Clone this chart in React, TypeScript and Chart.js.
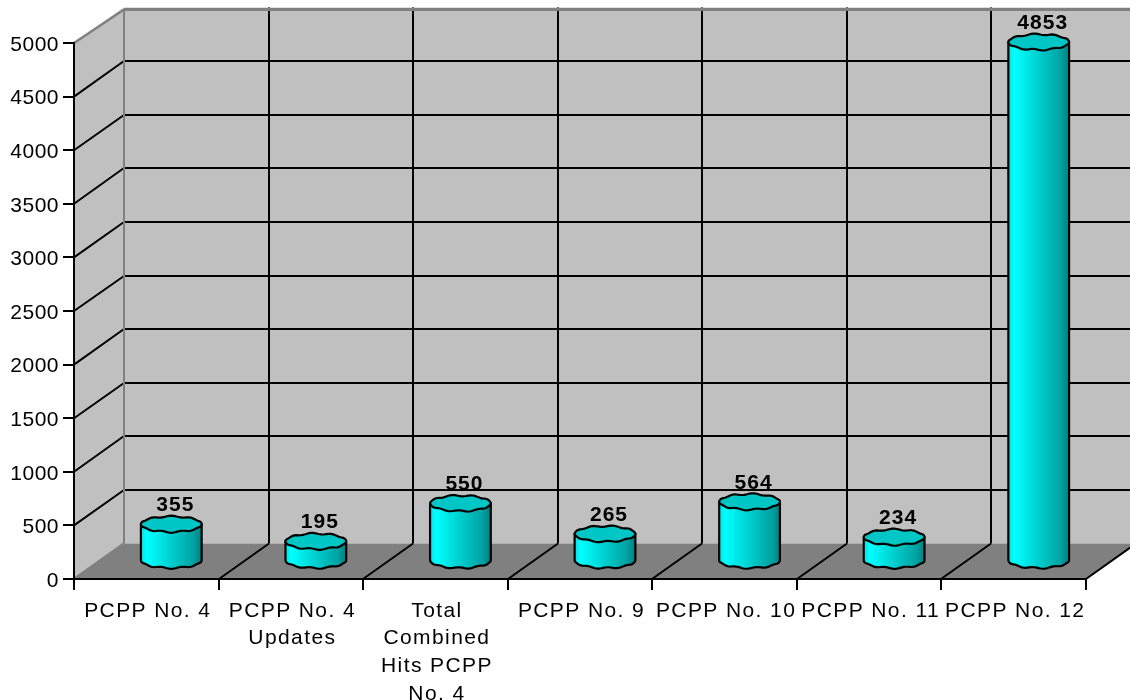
import React, { useEffect, useRef } from "react";
import { Chart, registerables } from "chart.js";

Chart.register(...registerables);

const categories: (string | string[])[] = [
  "PCPP No. 4",
  ["PCPP No. 4", "Updates"],
  ["Total", "Combined", "Hits PCPP", "No. 4"],
  "PCPP No. 9",
  "PCPP No. 10",
  "PCPP No. 11",
  "PCPP No. 12",
];
const hits = [355, 195, 550, 265, 564, 234, 4853];

const DX = 50;
const DY = 35.5;
const WALL = "#C0C0C0";
const FLOOR = "#808080";
const FONT = "'Liberation Sans', Arial, sans-serif";

function line(ctx: CanvasRenderingContext2D, x1: number, y1: number, x2: number, y2: number, color: string, w: number) {
  ctx.strokeStyle = color;
  ctx.lineWidth = w;
  ctx.beginPath();
  ctx.moveTo(x1, y1);
  ctx.lineTo(x2, y2);
  ctx.stroke();
}

function spaced(scale: any, spacing: string, shiftX: number, shiftY: number) {
  if (scale.__spaced) return;
  scale.__spaced = true;
  const original = scale.drawLabels.bind(scale);
  scale.drawLabels = (area: any) => {
    const ctx = scale.ctx;
    ctx.save();
    ctx.letterSpacing = spacing;
    ctx.translate(shiftX, shiftY);
    original(area);
    ctx.restore();
  };
}

const stage = {
  id: "stage3d",
  beforeDraw(chart: any) {
    const { ctx, scales } = chart;
    const { x, y } = scales;
    spaced(x, "1.4px", 1.5, 0);
    spaced(y, "0.5px", 0, 2);
    const left = x.left;
    const right = x.right;
    const y0 = y.getPixelForValue(0);
    const yTop = y.getPixelForValue(5000);
    const step = (right - left) / categories.length;
    ctx.save();
    ctx.fillStyle = "#fff";
    ctx.fillRect(0, 0, chart.width, chart.height);
    // walls
    ctx.fillStyle = WALL;
    ctx.beginPath();
    ctx.moveTo(left, y0);
    ctx.lineTo(left, yTop);
    ctx.lineTo(left + DX, yTop - DY);
    ctx.lineTo(right + DX, yTop - DY);
    ctx.lineTo(right + DX, y0 - DY);
    ctx.lineTo(left + DX, y0 - DY);
    ctx.closePath();
    ctx.fill();
    // floor
    ctx.fillStyle = FLOOR;
    ctx.beginPath();
    ctx.moveTo(left, y0);
    ctx.lineTo(right, y0);
    ctx.lineTo(right + DX, y0 - DY);
    ctx.lineTo(left + DX, y0 - DY);
    ctx.closePath();
    ctx.fill();
    // value grid on the walls
    for (const t of y.ticks) {
      if (t.value === 0 || t.value === 5000) continue;
      const p = y.getPixelForValue(t.value);
      const back = Math.round(p - DY);
      line(ctx, left, p, left + DX, back, "#000", 2);
      line(ctx, left + DX, back, right + DX, back, "#000", 2);
    }
    // category grid on back wall and floor
    for (let i = 1; i <= categories.length; i++) {
      const p = Math.round(left + i * step);
      if (i < categories.length) line(ctx, p + DX, yTop - DY, p + DX, y0 - DY, "#000", 2);
      line(ctx, p, y0, p + DX, y0 - DY, "#000", 2);
    }
    // grey frame
    line(ctx, left, yTop, left + DX, yTop - DY + 2, FLOOR, 2.5);
    line(ctx, left + DX, yTop - DY + 2, right + DX, yTop - DY + 2, FLOOR, 3);
    line(ctx, left + DX, yTop - DY + 2, left + DX, y0 - DY, FLOOR, 2);
    line(ctx, left, y0, left + DX, y0 - DY, FLOOR, 2.5);
    ctx.restore();
  },
  afterDatasetsDraw(chart: any) {
    const { ctx } = chart;
    const meta = chart.getDatasetMeta(0);
    ctx.save();
    meta.data.forEach((el: any, i: number) => {
      const rx = el.width / 2;
      const ry = 7.8;
      const cx = el.x + DX / 2;
      const top = el.y - DY / 2 + 1;
      const bot = el.base - DY / 2;
      const wob = (a: number) => 0.8 * Math.sin(a * 9 + i * 1.3) * Math.abs(Math.sin(a));
      const g = ctx.createLinearGradient(cx - rx, 0, cx + rx, 0);
      g.addColorStop(0, "#00E4E4");
      g.addColorStop(0.1, "#00FFFF");
      g.addColorStop(0.55, "#00C8C8");
      g.addColorStop(0.85, "#00A4A4");
      g.addColorStop(1, "#008080");
      ctx.lineJoin = "round";
      ctx.lineWidth = 2.2;
      ctx.strokeStyle = "#000";
      // body
      ctx.beginPath();
      ctx.moveTo(cx - rx, top);
      ctx.lineTo(cx - rx, bot);
      for (let k = 0; k <= 48; k++) {
        const a = Math.PI - (k / 48) * Math.PI;
        ctx.lineTo(cx + rx * Math.cos(a), bot + ry * Math.sin(a) + wob(a));
      }
      ctx.lineTo(cx + rx, top);
      ctx.closePath();
      ctx.fillStyle = g;
      ctx.fill();
      ctx.stroke();
      // cap
      ctx.beginPath();
      for (let k = 0; k <= 72; k++) {
        const a = (k / 72) * Math.PI * 2;
        const px = cx + rx * Math.cos(a);
        const py = top + ry * Math.sin(a) + wob(a);
        if (k === 0) ctx.moveTo(px, py);
        else ctx.lineTo(px, py);
      }
      ctx.closePath();
      ctx.fillStyle = "#00C6C6";
      ctx.fill();
      ctx.stroke();
      // value
      ctx.fillStyle = "#000";
      ctx.font = `bold 21px ${FONT}`;
      ctx.textAlign = "center";
      ctx.textBaseline = "middle";
      ctx.letterSpacing = "1px";
      ctx.fillText(String(hits[i]), cx + 4, top - 19);
    });
    ctx.restore();
  },
};

export default function App() {
  const ref = useRef<HTMLCanvasElement>(null);
  useEffect(() => {
    const chart = new Chart(ref.current!, {
      type: "bar",
      plugins: [stage],
      data: {
        labels: categories as any,
        datasets: [
          {
            data: hits,
            backgroundColor: "rgba(0,0,0,0)",
            borderWidth: 0,
            barPercentage: 0.42,
            categoryPercentage: 1,
          },
        ],
      },
      options: {
        animation: false,
        responsive: false,
        layout: { padding: { top: 43, right: 44, left: 0, bottom: 0 } },
        plugins: { legend: { display: false }, title: { display: false }, tooltip: { enabled: false } },
        scales: {
          x: {
            afterFit: (s: any) => { s.height = 121; },
            grid: { drawOnChartArea: false, drawTicks: true, tickLength: 11, color: "#000", lineWidth: 2 },
            border: { color: "#000", width: 2 },
            ticks: {
              autoSkip: false,
              maxRotation: 0,
              minRotation: 0,
              padding: 7,
              color: "#000",
              font: { family: FONT, size: 21, lineHeight: 1.32 },
            },
          },
          y: {
            min: 0,
            max: 5000,
            afterFit: (s: any) => { s.width = 74; },
            grid: { drawOnChartArea: false, drawTicks: true, tickLength: 11, color: "#000", lineWidth: 2 },
            border: { color: "#000", width: 2 },
            ticks: {
              stepSize: 500,
              padding: 4,
              color: "#000",
              font: { family: FONT, size: 21 },
              callback: (v: any) => String(v),
            },
          },
        },
      },
    } as any);
    return () => chart.destroy();
  }, []);
  return (
    <canvas
      ref={ref}
      width={1130}
      height={700}
      style={{ position: "absolute", left: 0, top: 0, display: "block", width: 1130, height: 700 }}
    />
  );
}
